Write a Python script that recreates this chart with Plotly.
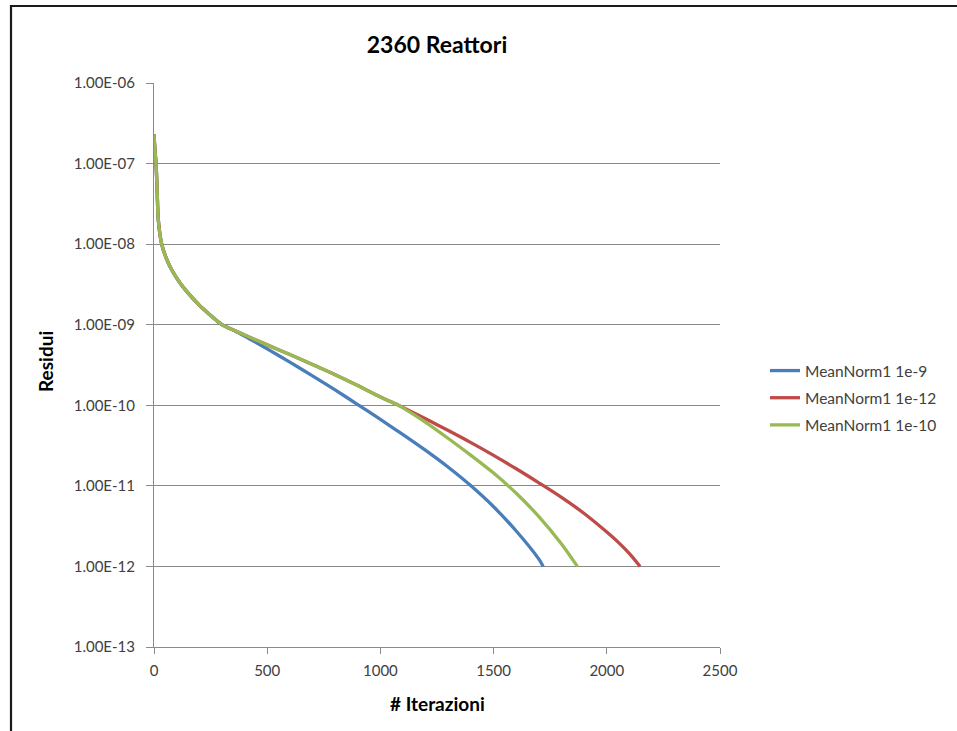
import plotly.graph_objects as go

# Shared start of the convergence history (all three runs coincide here)
head_iter = [0, 4, 9, 14, 19, 34, 55, 78, 115, 152, 200, 240, 300, 350]
head_res = [2.3e-7, 1.5e-7, 1.0e-7, 4.5e-8, 2.0e-8, 1.0e-8, 6.6e-9, 4.8e-9,
            3.3e-9, 2.45e-9, 1.75e-9, 1.38e-9, 1.0e-9, 8.6e-10]

# MeanNorm1 1e-9
blue_iter = [400, 500, 600, 700, 800, 900, 1000, 1100, 1200, 1300, 1400, 1500, 1600, 1700, 1719]
blue_res = [7.24e-10, 5.01e-10, 3.43e-10, 2.32e-10, 1.55e-10, 1.02e-10, 6.68e-11, 4.32e-11,
            2.75e-11, 1.70e-11, 1.0e-11, 5.5e-12, 2.75e-12, 1.23e-12, 1.0e-12]

# Part shared by MeanNorm1 1e-12 and MeanNorm1 1e-10
mid_iter = [400, 500, 600, 700, 800, 900, 1000, 1080]
mid_res = [7.46e-10, 5.62e-10, 4.27e-10, 3.20e-10, 2.40e-10, 1.76e-10, 1.27e-10, 1.0e-10]

# MeanNorm1 1e-12 tail
red_iter = [1100, 1200, 1300, 1400, 1500, 1600, 1700, 1800, 1900, 2000, 2050, 2100, 2147]
red_res = [9.38e-11, 6.79e-11, 4.86e-11, 3.44e-11, 2.39e-11, 1.63e-11, 1.09e-11,
           7.19e-12, 4.54e-12, 2.67e-12, 2.0e-12, 1.44e-12, 1.0e-12]

# MeanNorm1 1e-10 tail
green_iter = [1100, 1200, 1300, 1400, 1500, 1600, 1700, 1800, 1870]
green_res = [9.29e-11, 6.14e-11, 3.87e-11, 2.39e-11, 1.44e-11, 8.09e-12, 4.15e-12, 1.90e-12, 1.0e-12]

y_tick_vals = [1e-13, 1e-12, 1e-11, 1e-10, 1e-9, 1e-8, 1e-7, 1e-6]
y_tick_text = ["1.00E-13", "1.00E-12", "1.00E-11", "1.00E-10",
               "1.00E-09", "1.00E-08", "1.00E-07", "1.00E-06"]
x_tick_vals = [0, 500, 1000, 1500, 2000, 2500]

series = [
    ("MeanNorm1 1e-9", "#4A7EBB", head_iter + blue_iter, head_res + blue_res),
    ("MeanNorm1 1e-12", "#BE4B48", head_iter + mid_iter + red_iter, head_res + mid_res + red_res),
    ("MeanNorm1 1e-10", "#98B954", head_iter + mid_iter + green_iter, head_res + mid_res + green_res),
]

W, H = 957, 731
L, R, T, B = 154, 720, 83, 647  # plot area in pixels

fig = go.Figure()
for name, color, xs, ys in series:
    fig.add_trace(go.Scatter(
        x=xs, y=ys, name=name, legendgroup=name, mode="lines",
        line=dict(color=color, width=3.3, shape="spline", smoothing=0.8),
    ))

grid = "#8a8a8a"
tick_font = dict(family="Lato", size=15, color="#404040")

fig.update_layout(
    width=W, height=H,
    margin=dict(l=L, r=W - R, t=T, b=H - B, pad=0),
    paper_bgcolor="white", plot_bgcolor="white",
    title=dict(text="<b>2360 Reattori</b>", x=(L + R) / 2 / W, xanchor="center",
               y=1 - 45 / H, yanchor="middle", yref="container",
               font=dict(family="Lato", size=23, color="#000000")),
    font=dict(family="Lato"),
    showlegend=True,
    legend=dict(x=(765 - L) / (R - L), xanchor="left",
                y=(B - 398) / (B - T), yanchor="middle",
                font=dict(family="Lato", size=15.5, color="#404040"),
                bgcolor="rgba(0,0,0,0)", borderwidth=0,
                itemwidth=30, traceorder="grouped", tracegroupgap=4),
    xaxis=dict(range=[0, 2500], tickvals=x_tick_vals, showgrid=False, zeroline=False,
               showline=True, linecolor=grid, linewidth=1,
               ticks="outside", ticklen=6, tickcolor=grid, tickfont=tick_font,
               ticklabelstandoff=4),
    yaxis=dict(type="log", range=[-13, -6], tickvals=y_tick_vals, ticktext=y_tick_text,
               showgrid=True, gridcolor=grid, gridwidth=1, zeroline=False,
               showline=True, linecolor=grid, linewidth=1,
               ticks="outside", ticklen=7, tickcolor=grid, tickfont=tick_font,
               ticklabelstandoff=8),
    annotations=[
        dict(text="<b># Iterazioni</b>", xref="paper", yref="paper",
             x=0.5, y=(B - 703) / (B - T), xanchor="center", yanchor="middle",
             showarrow=False, font=dict(family="Lato", size=19, color="#000000")),
        dict(text="<b>Residui</b>", xref="paper", yref="paper",
             x=(45 - L) / (R - L), y=(B - 362) / (B - T), xanchor="center", yanchor="middle",
             textangle=-90, showarrow=False, font=dict(family="Lato", size=19, color="#000000")),
    ],
)

# Chart frame: left and top edges of the chart border
fx = (11 - L) / (R - L)
fy = (B - 6) / (B - T)
fig.add_shape(type="path", xref="paper", yref="paper",
              path=f"M {fx},-0.3 L {fx},{fy} L 1.5,{fy}",
              line=dict(color="#1a1a1a", width=2.2))

fig.write_html("out.html")
